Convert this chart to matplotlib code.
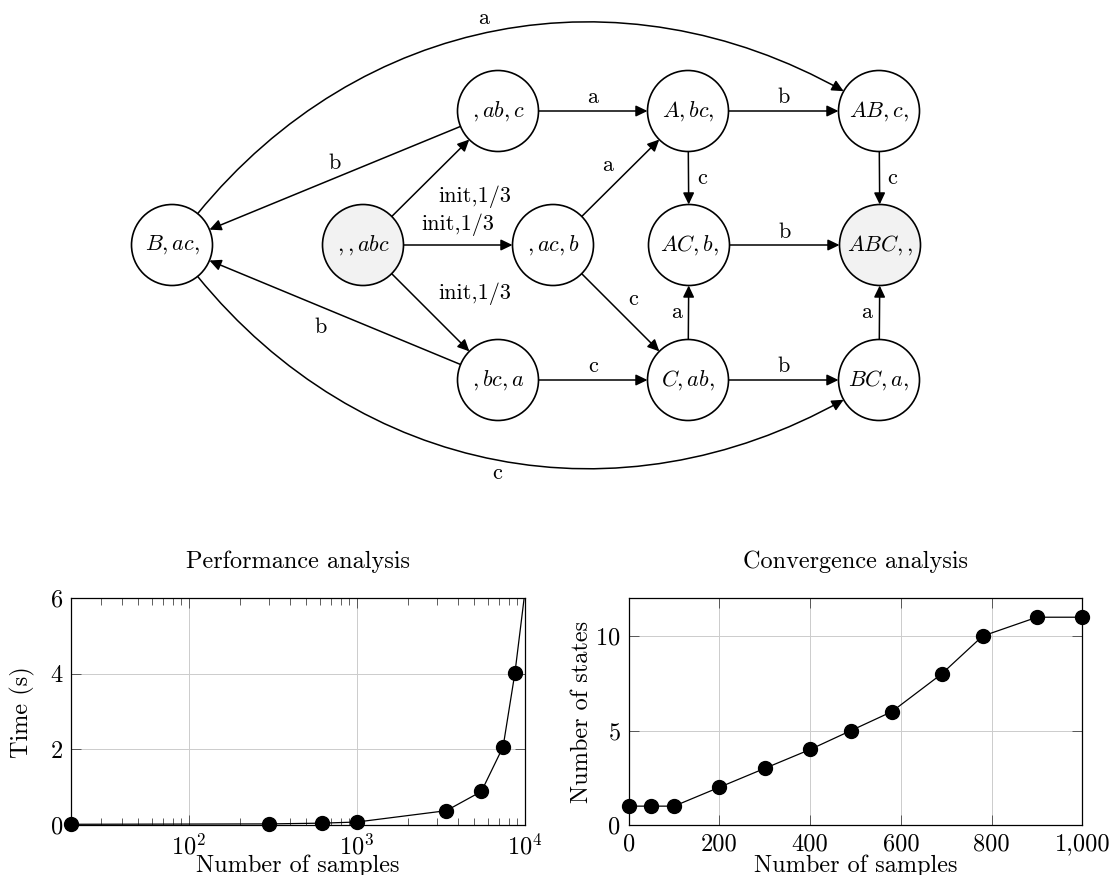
import numpy as np
import matplotlib
matplotlib.use("Agg")
import matplotlib.pyplot as plt
from matplotlib.patches import Circle, FancyArrowPatch
from matplotlib.path import Path
from matplotlib.ticker import FixedLocator, FuncFormatter, LogLocator, NullFormatter

# --- data: performance analysis ---
perf_samples = [20, 300, 620, 1000, 3400, 5500, 7400, 8700, 10000]
perf_time = [0.02, 0.03, 0.05, 0.08, 0.38, 0.89, 2.07, 4.02, 6.2]

# --- data: convergence analysis ---
conv_samples = [0, 50, 100, 200, 300, 400, 490, 580, 690, 780, 900, 1000]
conv_states = [1, 1, 1, 2, 3, 4, 5, 6, 8, 10, 11, 11]

# --- automaton: states and transitions ---
states = [r"$B,ac,$", r"$,,abc$", r"$,ab,c$", r"$,bc,a$", r"$,ac,b$",
          r"$A,bc,$", r"$AB,c,$", r"$AC,b,$", r"$ABC,,$", r"$C,ab,$", r"$BC,a,$"]
initial_state = r"$,,abc$"
final_state = r"$ABC,,$"
transitions = [
    (r"$,,abc$", r"$,ab,c$", "init,1/3"),
    (r"$,,abc$", r"$,ac,b$", "init,1/3"),
    (r"$,,abc$", r"$,bc,a$", "init,1/3"),
    (r"$,ab,c$", r"$B,ac,$", "b"),
    (r"$,bc,a$", r"$B,ac,$", "b"),
    (r"$,ab,c$", r"$A,bc,$", "a"),
    (r"$A,bc,$", r"$AB,c,$", "b"),
    (r"$A,bc,$", r"$AC,b,$", "c"),
    (r"$AB,c,$", r"$ABC,,$", "c"),
    (r"$,ac,b$", r"$A,bc,$", "a"),
    (r"$,ac,b$", r"$C,ab,$", "c"),
    (r"$AC,b,$", r"$ABC,,$", "b"),
    (r"$,bc,a$", r"$C,ab,$", "c"),
    (r"$C,ab,$", r"$AC,b,$", "a"),
    (r"$C,ab,$", r"$BC,a,$", "b"),
    (r"$BC,a,$", r"$ABC,,$", "a"),
    (r"$B,ac,$", r"$AB,c,$", "a"),
    (r"$B,ac,$", r"$BC,a,$", "c"),
]

# --- layout of the diagram (pixels, y downwards) ---
node_pos = {
    r"$B,ac,$": (172, 245), r"$,,abc$": (363, 245),
    r"$,ab,c$": (498, 111), r"$,bc,a$": (498, 380), r"$,ac,b$": (553, 245),
    r"$A,bc,$": (688, 111), r"$AC,b,$": (689, 245), r"$C,ab,$": (688, 380),
    r"$AB,c,$": (879, 111), r"$ABC,,$": (880, 245), r"$BC,a,$": (879, 380),
}
NODE_R = 40.5
# label offset from edge middle, and bend angle (0 = straight)
edge_style = [(44, 19, 0), (0, -20, 0), (44, -19, 0), (0, -15, 0), (-14, 15, 0),
              (0, -14, 0), (0, -14, 0), (14, 0, 0), (13, 0, 0), (-13, -13, 0),
              (13, -13, 0), (0, -13, 0), (0, -14, 0), (-12, 0, 0), (0, -14, 0),
              (-13, 0, 0), (-14, -12, 40), (0, 13, -40)]

ARROW = "-|>,head_length=0.5,head_width=0.24"
FS = 17.5  # axes text size


def draw_automaton(ax):
    """状态图"""
    for name in states:
        fc = "#f2f2f2" if name in (initial_state, final_state) else "white"
        ax.add_patch(Circle(node_pos[name], NODE_R, fc=fc, ec="black", lw=1.2, zorder=2))
        ax.text(*node_pos[name], name, ha="center", va="center", fontsize=16, zorder=3)

    for (src, dst, lab), (dx, dy, bend) in zip(transitions, edge_style):
        p1 = np.array(node_pos[src], float)
        p2 = np.array(node_pos[dst], float)
        # math angle of the chord (y is flipped)
        chord = np.degrees(np.arctan2(-(p2[1] - p1[1]), p2[0] - p1[0]))
        a_out = np.radians(chord + bend)
        a_in = np.radians(chord + 180 - bend)
        u_out = np.array([np.cos(a_out), -np.sin(a_out)])
        u_in = np.array([np.cos(a_in), -np.sin(a_in)])
        start = p1 + NODE_R * u_out
        end = p2 + NODE_R * u_in
        if bend == 0:
            arr = FancyArrowPatch(start, end, arrowstyle=ARROW, mutation_scale=14,
                                  lw=1.1, color="black", shrinkA=0, shrinkB=0, zorder=1)
            mid = (start + end) / 2
        else:
            d = 0.3915 * np.linalg.norm(end - start)
            c1 = start + d * u_out
            c2 = end + d * u_in
            path = Path([start, c1, c2, end], [Path.MOVETO, Path.CURVE4, Path.CURVE4, Path.CURVE4])
            arr = FancyArrowPatch(path=path, arrowstyle=ARROW, mutation_scale=14,
                                  lw=1.1, color="black", shrinkA=0, shrinkB=0, zorder=1)
            mid = 0.125 * start + 0.375 * c1 + 0.375 * c2 + 0.125 * end
        ax.add_patch(arr)
        ax.text(mid[0] + dx, mid[1] + dy, lab, ha="center", va="center", fontsize=16)


def style_axes(ax):
    ax.grid(True, which="major", color="#cccccc", lw=0.7)
    ax.set_axisbelow(True)
    ax.tick_params(which="both", direction="in", top=True, right=True,
                   colors="#444444", labelcolor="black", labelsize=FS, width=0.6)
    ax.tick_params(which="major", length=7.5)
    ax.tick_params(which="minor", length=5)
    ax.tick_params(axis="x", pad=6)
    ax.tick_params(axis="y", pad=6)
    for sp in ax.spines.values():
        sp.set_linewidth(0.9)
    ax.xaxis.label.set_va("center")
    ax.yaxis.label.set_va("center")


def main():
    plt.rcParams["font.family"] = "serif"
    plt.rcParams["font.serif"] = ["cmr10"]
    plt.rcParams["mathtext.fontset"] = "cm"
    plt.rcParams["axes.unicode_minus"] = False
    plt.rcParams["axes.formatter.use_mathtext"] = True

    fig = plt.figure(figsize=(11.11, 8.75), dpi=100)

    # 状态图占据整个画布 (像素坐标)
    ax_g = fig.add_axes([0, 0, 1, 1])
    ax_g.set_xlim(0, 1111)
    ax_g.set_ylim(875, 0)
    ax_g.axis("off")
    draw_automaton(ax_g)

    # --- Performance analysis ---
    ax1 = fig.add_axes([0.0643, 0.0571, 0.4083, 0.2591])
    ax1.set_xscale("log")
    ax1.plot(perf_samples, perf_time, color="black", lw=0.9)
    inside = [(x, y) for x, y in zip(perf_samples, perf_time) if y <= 6]
    ax1.plot([p[0] for p in inside], [p[1] for p in inside], "o", color="black",
             ms=10, clip_on=False, zorder=3)
    ax1.set_xlim(20, 10000)
    ax1.set_ylim(0, 6)
    ax1.set_yticks([0, 2, 4, 6])
    ax1.xaxis.set_major_locator(LogLocator(base=10, numticks=10))
    ax1.xaxis.set_minor_locator(LogLocator(base=10, subs=np.arange(2, 10), numticks=20))
    ax1.xaxis.set_minor_formatter(NullFormatter())
    style_axes(ax1)
    ax1.set_title("Performance analysis", fontsize=FS, pad=22)
    ax1.set_xlabel("Number of samples", fontsize=FS)
    ax1.set_ylabel("Time (s)", fontsize=FS)
    ax1.xaxis.set_label_coords(0.5, -0.178)
    ax1.yaxis.set_label_coords(-0.107, 0.5)

    # --- Convergence analysis ---
    ax2 = fig.add_axes([0.5659, 0.0571, 0.4083, 0.2591])
    ax2.plot(conv_samples, conv_states, "-o", color="black", lw=0.9, ms=10,
             clip_on=False, zorder=3)
    ax2.set_xlim(0, 1000)
    ax2.set_ylim(0, 12)
    ax2.xaxis.set_major_locator(FixedLocator([0, 200, 400, 600, 800, 1000]))
    ax2.xaxis.set_major_formatter(FuncFormatter(lambda v, p: f"{v:,.0f}"))
    ax2.set_yticks([0, 5, 10])
    style_axes(ax2)
    ax2.set_title("Convergence analysis", fontsize=FS, pad=22)
    ax2.set_xlabel("Number of samples", fontsize=FS)
    ax2.set_ylabel("Number of states", fontsize=FS)
    ax2.xaxis.set_label_coords(0.5, -0.178)
    ax2.yaxis.set_label_coords(-0.103, 0.5)

    fig.savefig("out.png", dpi=100)


if __name__ == "__main__":
    main()
